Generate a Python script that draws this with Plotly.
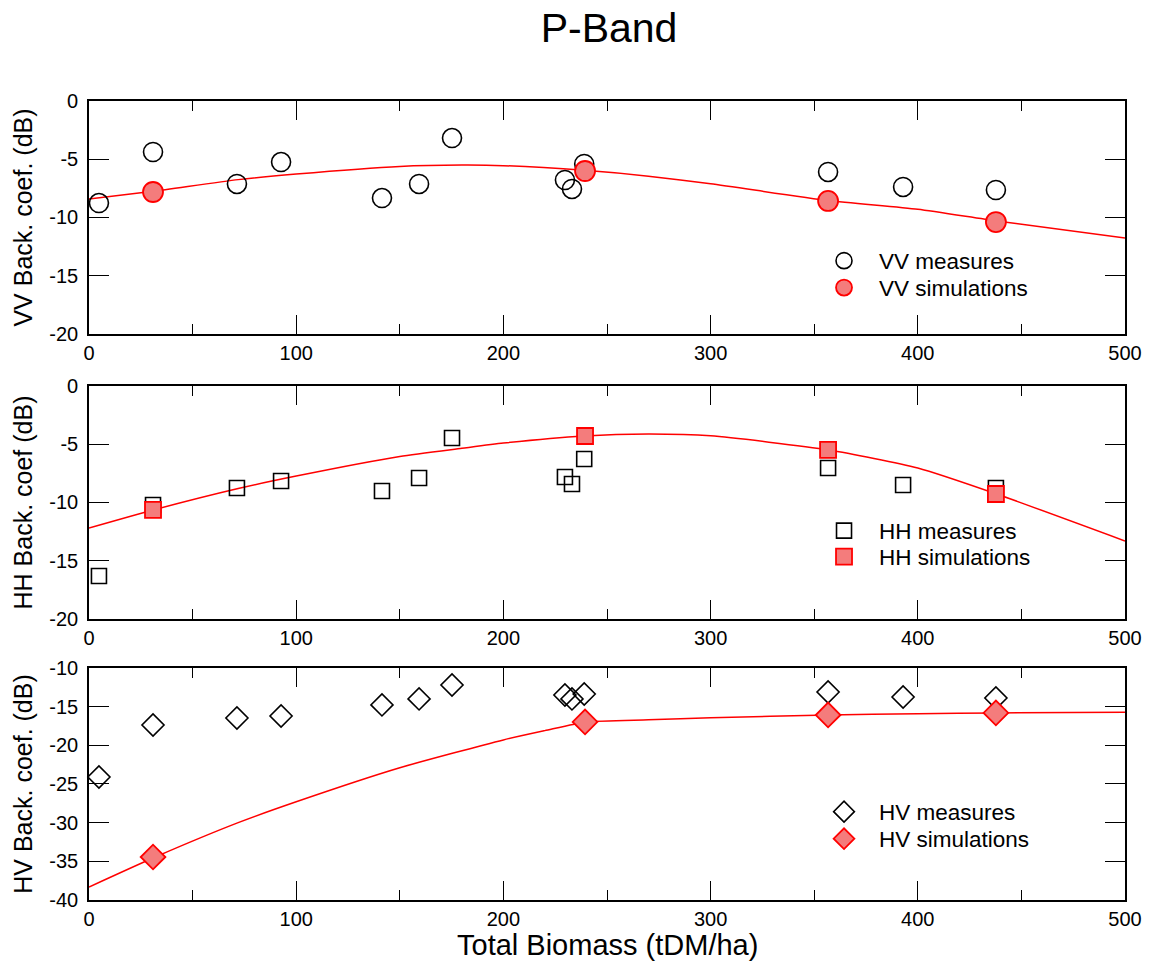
import plotly.graph_objects as go

# ---------------- data ----------------
biomass_meas = [4.8, 30.9, 71.4, 92.7, 141.4, 159.3, 175.2, 229.7, 233.1, 239.0, 356.7, 392.9, 437.7]
vv_meas = [-8.76, -4.38, -7.12, -5.24, -8.33, -7.12, -3.18, -6.78, -7.55, -5.41, -6.09, -7.38, -7.64]
hh_meas = [-16.31, -10.21, -8.76, -8.15, -9.01, -7.90, -4.46, -7.81, -8.41, -6.27, -7.04, -8.50, -8.76]
hv_meas = [-24.1, -17.37, -16.47, -16.21, -14.78, -14.0, -12.2, -13.49, -14.0, -13.36, -13.1, -13.75, -13.88]

biomass_sim = [30.9, 239.4, 356.7, 437.7]
vv_sim = [-7.81, -6.01, -8.58, -10.39]
hh_sim = [-10.64, -4.29, -5.49, -9.27]
hv_sim = [-34.44, -16.98, -16.08, -15.82]

curve_x = [0, 31, 72, 100, 150, 180, 200, 239, 270, 300, 357, 400, 438, 500]
vv_curve = [-8.41, -7.75, -6.75, -6.27, -5.62, -5.50, -5.55, -5.95, -6.45, -7.10, -8.55, -9.30, -10.30, -11.76]
hh_curve = [-12.19, -10.64, -8.80, -7.73, -6.05, -5.35, -4.90, -4.29, -4.13, -4.28, -5.49, -7.04, -9.27, -13.30]
hv_curve_x = [0, 32, 72, 100, 150, 200, 220, 240, 270, 300, 357, 400, 438, 500]
hv_curve = [-38.32, -34.44, -30.0, -27.3, -22.9, -19.3, -18.1, -16.98, -16.7, -16.45, -16.08, -15.92, -15.82, -15.72]

y_ticks_12 = [0, -5, -10, -15, -20]
y_ticks_3 = [-10, -15, -20, -25, -30, -35, -40]
x_ticks = [0, 100, 200, 300, 400, 500]

# ---------------- style ----------------
FONT = "Liberation Sans, Arial, sans-serif"
SIM_FILL = "#f47c7c"
RED = "#ff0000"

fig = go.Figure()

legend_pos = {
    "legend": 0.7997, "legend2": 0.7660,
    "legend3": 0.4618, "legend4": 0.4293,
    "legend5": 0.1101, "legend6": 0.0763,
}

panels = [
    ("VV", vv_meas, vv_sim, curve_x, vv_curve, "circle", 19, 20, "", "legend", "legend2"),
    ("HH", hh_meas, hh_sim, curve_x, hh_curve, "square", 15, 16, "2", "legend3", "legend4"),
    ("HV", hv_meas, hv_sim, hv_curve_x, hv_curve, "diamond", 17, 19, "3", "legend5", "legend6"),
]

for name, meas, sim, cx, cy, sym, size_m, size_s, ax, leg_m, leg_s in panels:
    fig.add_trace(go.Scatter(
        x=cx, y=cy, mode="lines", line=dict(color=RED, width=1.5, shape="spline", smoothing=0.6),
        xaxis="x" + ax, yaxis="y" + ax, showlegend=False, hoverinfo="skip"))
    fig.add_trace(go.Scatter(
        x=biomass_meas, y=meas, mode="markers", name=f"{name} measures",
        marker=dict(symbol=sym + "-open", size=size_m, color="black", line=dict(width=1.6, color="black")),
        xaxis="x" + ax, yaxis="y" + ax, legend=leg_m, cliponaxis=False))
    fig.add_trace(go.Scatter(
        x=biomass_sim, y=sim, mode="markers", name=f"{name} simulations",
        marker=dict(symbol=sym, size=size_s, color=SIM_FILL, line=dict(width=1.8, color=RED)),
        xaxis="x" + ax, yaxis="y" + ax, legend=leg_s, cliponaxis=False))

axis_common = dict(showline=True, linecolor="black", linewidth=1.6, mirror="allticks",
                   ticks="inside", tickcolor="black", tickwidth=1.4, showgrid=False, zeroline=False,
                   automargin=False, tickfont=dict(family=FONT, size=20, color="black"))

x_common = dict(axis_common, range=[0, 500], tickvals=x_ticks, ticklen=19, ticklabelstandoff=0,
                minor=dict(dtick=50, ticks="inside", ticklen=10, tickcolor="black", tickwidth=1.4, showgrid=False))

domains = [[0.7084, 1.0], [0.3517, 0.6433], [0.0, 0.2904]]
titles = ["VV Back. coef. (dB)", "HH Back. coef (dB)", "HV Back. coef. (dB)"]

layout = dict(
    width=1153, height=965,
    margin=dict(l=89, r=28, t=101, b=65, autoexpand=False),
    paper_bgcolor="white", plot_bgcolor="white",
    font=dict(family=FONT, color="black"),
    title=dict(text="P-Band", x=0.5282, xanchor="center", y=0.971, yanchor="middle",
               font=dict(family=FONT, size=41, color="black")),
    annotations=[dict(text="Total Biomass (tDM/ha)", xref="paper", yref="paper", x=0.5, y=-0.0563,
                      xanchor="center", yanchor="middle", showarrow=False,
                      font=dict(family=FONT, size=29, color="black"))],
)

for i, (suf, dom, ttl) in enumerate(zip(["", "2", "3"], domains, titles)):
    xa = dict(x_common, anchor="y" + suf, domain=[0, 1])
    yt = y_ticks_3 if i == 2 else y_ticks_12
    ya = dict(axis_common, anchor="x" + suf, domain=dom, ticklen=20, ticklabelstandoff=5,
              range=[min(yt), max(yt)], tickvals=yt, ticktext=[str(v) for v in yt],
              title=dict(text=ttl, font=dict(family=FONT, size=25, color="black"), standoff=10))
    layout["xaxis" + suf] = xa
    layout["yaxis" + suf] = ya

leg_common = dict(bgcolor="rgba(0,0,0,0)", font=dict(family=FONT, size=22.5, color="black"),
                  xanchor="left", yanchor="middle", itemwidth=60, x=0.695)
for key, ypos in legend_pos.items():
    layout[key] = dict(leg_common, y=ypos)

fig.update_layout(**layout)
fig.write_html(
    "out.html",
    config={"displayModeBar": False},
    post_script="document.documentElement.style.margin='0';document.body.style.margin='0';"
                "document.body.style.overflow='hidden';",
)
